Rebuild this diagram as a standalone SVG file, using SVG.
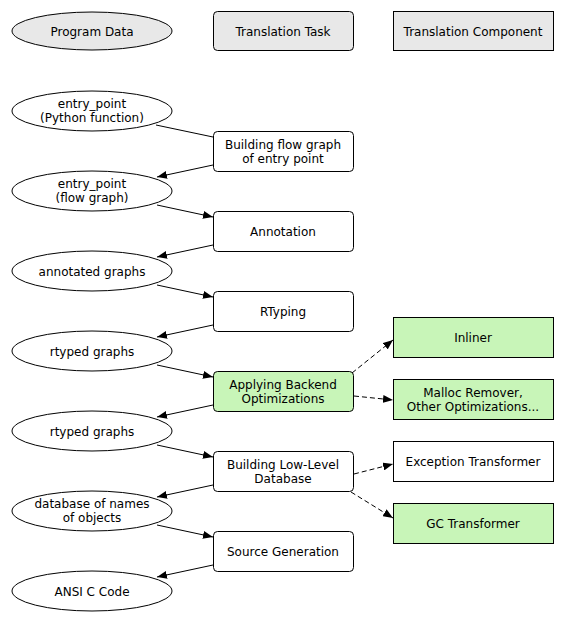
<svg xmlns="http://www.w3.org/2000/svg" width="568" height="622" viewBox="0 0 568 622">
<style>
text{font-family:"DejaVu Sans",sans-serif;font-size:12px;text-anchor:middle;fill:#000}
.d ellipse{fill:#fff;stroke:#000;stroke-width:1}
.t rect{fill:#fff;stroke:#000;stroke-width:1}
.c rect{fill:#fff;stroke:#000;stroke-width:1}
.g rect{fill:#c8f5b8}
.leg ellipse,.leg rect{fill:#e8e8e8}
.e line{stroke:#000;stroke-width:1}
.e .dash{stroke-dasharray:5,3}
</style>
<defs>
<marker id="ah" viewBox="0 0 10 8" refX="10" refY="4" markerWidth="10" markerHeight="8" markerUnits="userSpaceOnUse" orient="auto">
<path d="M0,0 L10,4 L0,8 Z" fill="#000"/>
</marker>
</defs>
<rect width="568" height="622" fill="#fff"/>
<g id="legend-data" class="d leg"><ellipse cx="92" cy="31" rx="80" ry="19"/><text x="92" y="36">Program Data</text></g>
<g id="legend-task" class="t leg"><rect x="213.5" y="11.5" width="140" height="39" rx="4"/><text x="283" y="36">Translation Task</text></g>
<g id="legend-comp" class="c leg"><rect x="393.5" y="11.5" width="160" height="39"/><text x="473" y="36">Translation Component</text></g>

<g id="d1" class="d"><ellipse cx="92" cy="111" rx="80" ry="20"/><text x="92" y="108">entry_point</text><text x="92" y="122">(Python function)</text></g>
<g id="d2" class="d"><ellipse cx="92" cy="191" rx="80" ry="20"/><text x="92" y="188">entry_point</text><text x="92" y="202">(flow graph)</text></g>
<g id="d3" class="d"><ellipse cx="92" cy="271" rx="80" ry="20"/><text x="92" y="276">annotated graphs</text></g>
<g id="d4" class="d"><ellipse cx="92" cy="351" rx="80" ry="20"/><text x="92" y="356">rtyped graphs</text></g>
<g id="d5" class="d"><ellipse cx="92" cy="431" rx="80" ry="20"/><text x="92" y="436">rtyped graphs</text></g>
<g id="d6" class="d"><ellipse cx="92" cy="511" rx="80" ry="20"/><text x="92" y="508">database of names</text><text x="92" y="522">of objects</text></g>
<g id="d7" class="d"><ellipse cx="92" cy="591" rx="80" ry="20"/><text x="92" y="596">ANSI C Code</text></g>

<g id="t1" class="t"><rect x="213.5" y="131.5" width="140" height="40" rx="4"/><text x="283" y="149">Building flow graph</text><text x="283" y="163">of entry point</text></g>
<g id="t2" class="t"><rect x="213.5" y="211.5" width="140" height="40" rx="4"/><text x="283" y="236">Annotation</text></g>
<g id="t3" class="t"><rect x="213.5" y="291.5" width="140" height="40" rx="4"/><text x="283" y="316">RTyping</text></g>
<g id="t4" class="t g"><rect x="213.5" y="371.5" width="140" height="40" rx="4"/><text x="283" y="389">Applying Backend</text><text x="283" y="403">Optimizations</text></g>
<g id="t5" class="t"><rect x="213.5" y="451.5" width="140" height="40" rx="4"/><text x="283" y="469">Building Low-Level</text><text x="283" y="483">Database</text></g>
<g id="t6" class="t"><rect x="213.5" y="531.5" width="140" height="40" rx="4"/><text x="283" y="556">Source Generation</text></g>

<g id="c1" class="c g"><rect x="393.5" y="317.5" width="160" height="40"/><text x="473" y="342">Inliner</text></g>
<g id="c2" class="c g"><rect x="393.5" y="379.5" width="160" height="40"/><text x="473" y="397">Malloc Remover,</text><text x="473" y="411">Other Optimizations...</text></g>
<g id="c3" class="c"><rect x="393.5" y="441.5" width="160" height="40"/><text x="473" y="466">Exception Transformer</text></g>
<g id="c4" class="c g"><rect x="393.5" y="503.5" width="160" height="40"/><text x="473" y="528">GC Transformer</text></g>

<g id="edges" class="e">
<line x1="156" y1="125" x2="213" y2="137"/>
<line x1="213" y1="165" x2="157" y2="177" marker-end="url(#ah)"/>
<line x1="157" y1="205" x2="213" y2="217" marker-end="url(#ah)"/>
<line x1="213" y1="245" x2="157" y2="257" marker-end="url(#ah)"/>
<line x1="157" y1="285" x2="213" y2="297" marker-end="url(#ah)"/>
<line x1="213" y1="325" x2="157" y2="337" marker-end="url(#ah)"/>
<line x1="157" y1="365" x2="213" y2="377" marker-end="url(#ah)"/>
<line x1="213" y1="405" x2="157" y2="417" marker-end="url(#ah)"/>
<line x1="157" y1="445" x2="213" y2="457" marker-end="url(#ah)"/>
<line x1="213" y1="485" x2="157" y2="497" marker-end="url(#ah)"/>
<line x1="157" y1="525" x2="213" y2="537" marker-end="url(#ah)"/>
<line x1="213" y1="565" x2="157" y2="577" marker-end="url(#ah)"/>
<line class="dash" x1="352" y1="373" x2="393" y2="340" marker-end="url(#ah)"/>
<line class="dash" x1="354" y1="396" x2="393" y2="400" marker-end="url(#ah)"/>
<line class="dash" x1="354" y1="474" x2="393" y2="464" marker-end="url(#ah)"/>
<line class="dash" x1="351" y1="492" x2="393" y2="518" marker-end="url(#ah)"/>
</g>
</svg>
